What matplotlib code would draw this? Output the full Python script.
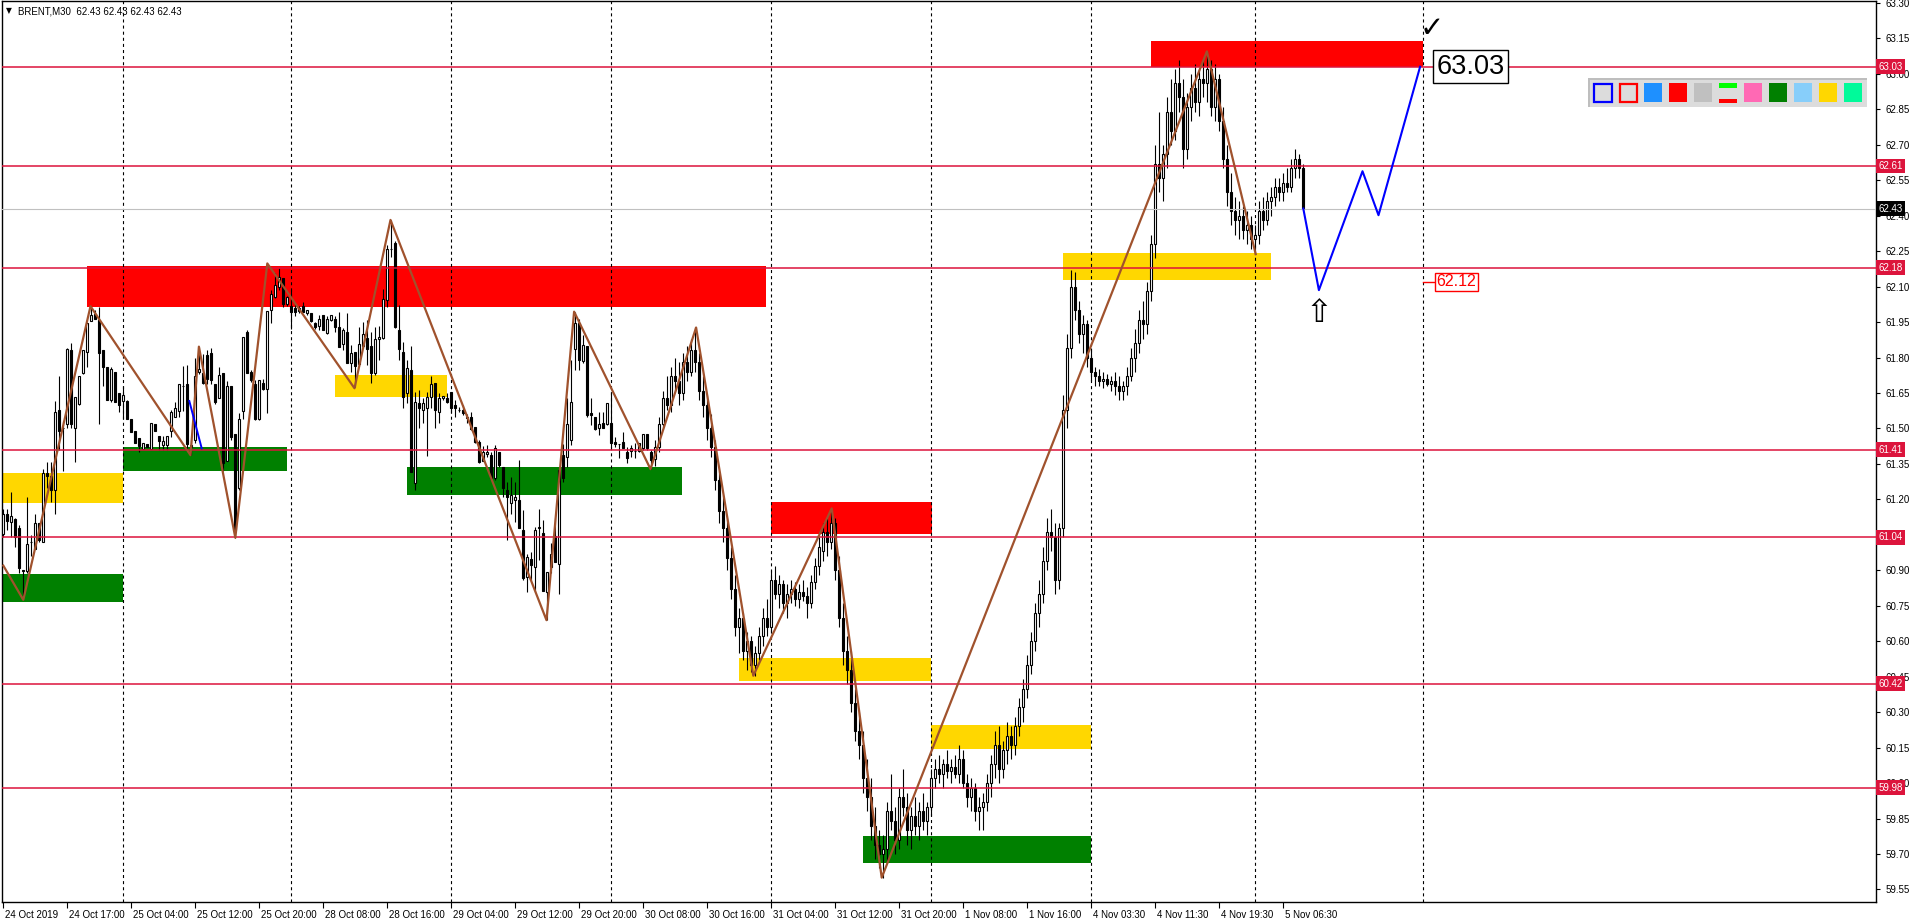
import numpy as np
import matplotlib
matplotlib.use("Agg")
import matplotlib.pyplot as plt
from matplotlib.patches import Rectangle
import matplotlib.transforms as mtransforms

# ---------------- data ----------------
title_text = "BRENT,M30  62.43 62.43 62.43 62.43"

opens = [
61.055,61.14,61.105,61.115,61.08,60.90,60.895,61.02,60.99,61.10,
61.02,61.31,61.30,61.24,61.58,61.50,61.52,61.83,61.50,61.605,
61.735,61.825,61.955,61.985,61.96,61.83,61.76,61.62,61.74,61.65,
61.615,61.615,61.54,61.49,61.46,61.415,61.435,61.415,61.52,61.47,
61.43,61.43,61.49,61.55,61.575,61.68,61.69,61.43,61.45,61.74,
61.735,61.81,61.82,61.69,61.627,61.736,61.364,61.68,61.476,61.25,
61.575,61.906,61.74,61.69,61.54,61.693,61.665,62.00,62.057,62.10,
62.135,62.026,62.018,62.01,61.997,62.018,61.987,61.987,61.944,61.935,
61.98,61.905,61.959,61.965,61.928,61.856,61.906,61.775,61.825,61.773,
61.85,61.884,61.849,61.733,61.877,61.884,62.043,62.258,62.286,61.916,
61.825,61.648,61.747,61.268,61.606,61.578,61.585,61.634,61.694,61.568,
61.627,61.627,61.655,61.599,61.578,61.58,61.55,61.55,61.505,61.444,
61.364,61.39,61.388,61.289,61.40,61.338,61.24,61.186,61.197,61.197,
61.07,60.873,60.946,60.915,61.077,61.056,60.809,60.915,61.045,60.925,
61.387,61.38,61.451,61.834,61.944,61.787,61.848,61.566,61.547,61.504,
61.524,61.518,61.524,61.444,61.434,61.444,61.40,61.406,61.406,61.406,
61.416,61.475,61.402,61.37,61.42,61.52,61.63,61.60,61.72,61.70,
61.65,61.78,61.74,61.83,61.78,61.66,61.60,61.50,61.42,61.28,
61.15,61.08,60.95,60.82,60.66,60.70,60.56,60.60,60.50,60.55,
60.62,60.70,60.66,60.86,60.80,60.84,60.76,60.80,60.82,60.78,
60.81,60.79,60.76,60.85,60.92,60.98,61.06,61.02,61.10,60.90,
60.70,60.56,60.48,60.34,60.22,60.16,60.02,59.94,59.82,59.74,
59.70,59.72,59.88,59.84,59.76,59.94,59.90,59.80,59.86,59.82,
59.88,59.84,59.90,60.02,60.06,60.04,60.08,60.05,60.07,60.04,
60.10,60.00,59.94,59.98,59.88,59.90,59.92,60.00,60.08,60.16,
60.06,60.14,60.20,60.16,60.24,60.32,60.40,60.50,60.60,60.72,
60.80,60.94,61.06,61.04,60.86,61.08,61.58,61.84,62.10,62.00,
61.90,61.94,61.80,61.74,61.72,61.70,61.71,61.69,61.70,61.68,
61.66,61.68,61.72,61.80,61.86,61.96,61.94,62.08,62.28,62.62,
62.56,62.66,62.84,62.76,62.96,62.90,62.68,62.86,62.94,62.88,
62.98,62.96,63.02,62.86,62.98,62.80,62.64,62.50,62.42,62.38,
62.40,62.34,62.36,62.30,62.32,62.42,62.38,62.46,62.48,62.52,
62.50,62.54,62.52,62.60,62.64,62.60]

highs = [
61.16,61.16,61.23,61.12,61.09,60.90,61.21,61.05,61.14,61.10,
61.33,61.36,61.36,61.615,61.72,61.53,61.84,61.86,61.635,61.72,
61.83,61.945,62.02,62.00,62.015,61.83,61.76,61.76,61.74,61.65,
61.68,61.62,61.54,61.49,61.46,61.44,61.435,61.525,61.52,61.47,
61.47,61.47,61.58,61.61,61.69,61.764,61.77,61.45,61.80,61.846,
61.817,61.83,61.84,61.69,61.76,61.736,61.70,61.68,61.476,61.564,
61.888,61.916,61.747,61.707,61.707,61.71,61.997,62.085,62.156,62.177,
62.135,62.06,62.085,62.03,62.02,62.036,62.00,61.99,61.95,61.98,
61.98,61.975,61.98,61.975,61.994,61.924,61.987,61.853,61.825,61.93,
61.952,61.958,61.91,61.93,61.933,62.088,62.276,62.382,62.294,62.022,
61.867,61.79,61.849,61.655,61.662,61.627,61.655,61.72,61.694,61.651,
61.637,61.648,61.655,61.62,61.59,61.599,61.56,61.571,61.505,61.451,
61.427,61.43,61.40,61.43,61.40,61.338,61.275,61.295,61.275,61.366,
61.157,60.971,60.978,61.084,61.16,61.112,60.894,61.014,61.12,61.331,
61.434,61.627,61.79,61.994,61.965,61.895,61.848,61.627,61.547,61.57,
61.57,61.606,61.655,61.462,61.436,61.486,61.423,61.43,61.437,61.437,
61.475,61.475,61.41,61.45,61.55,61.66,61.72,61.76,61.80,61.78,
61.82,61.85,61.88,61.93,61.82,61.72,61.64,61.56,61.45,61.32,
61.22,61.12,61.00,60.88,60.74,60.72,60.64,60.62,60.58,60.66,
60.74,60.78,60.90,60.92,60.88,60.86,60.84,60.86,60.85,60.84,
60.86,60.83,60.88,60.95,61.04,61.10,61.12,61.162,61.12,60.96,
60.76,60.62,60.56,60.40,60.30,60.22,60.10,60.02,59.90,59.80,
59.78,59.92,60.04,59.90,59.98,60.06,59.96,59.90,59.94,59.92,
59.96,59.92,60.06,60.10,60.12,60.10,60.14,60.10,60.12,60.16,
60.14,60.04,60.02,60.00,59.94,59.96,60.04,60.12,60.22,60.24,
60.18,60.26,60.24,60.28,60.36,60.44,60.54,60.64,60.76,60.86,
61.00,61.12,61.16,61.10,61.10,61.64,61.90,62.17,62.16,62.04,
61.98,61.96,61.84,61.76,61.75,61.74,61.73,61.72,61.74,61.72,
61.70,61.76,61.84,61.92,62.00,62.04,62.12,62.32,62.70,62.84,
62.70,62.90,62.98,63.02,63.06,62.98,62.92,63.00,63.04,63.02,
63.06,63.095,63.06,63.04,63.00,62.86,62.70,62.58,62.48,62.46,
62.44,62.42,62.40,62.36,62.46,62.48,62.50,62.52,62.56,62.56,
62.58,62.60,62.64,62.68,62.66,62.62]

lows = [
61.04,61.07,61.04,61.00,60.89,60.775,60.89,60.96,60.99,61.02,
61.02,61.25,61.19,61.14,61.41,61.32,61.50,61.50,61.36,61.60,
61.73,61.76,61.955,61.965,61.52,61.68,61.62,61.61,61.61,61.57,
61.54,61.54,61.485,61.44,61.40,61.415,61.42,61.415,61.49,61.41,
61.41,61.41,61.465,61.55,61.55,61.575,61.406,61.387,61.44,61.73,
61.69,61.69,61.69,61.603,61.627,61.32,61.364,61.45,61.038,61.24,
61.54,61.733,61.698,61.536,61.536,61.662,61.564,61.944,62.05,62.085,
62.015,62.02,61.92,61.975,61.99,61.994,61.98,61.95,61.92,61.917,
61.917,61.90,61.955,61.91,61.846,61.83,61.775,61.74,61.677,61.764,
61.84,61.768,61.694,61.726,61.79,61.877,62.015,62.227,61.924,61.79,
61.585,61.606,61.317,61.24,61.50,61.522,61.383,61.585,61.50,61.524,
61.62,61.606,61.564,61.55,61.57,61.557,61.522,61.494,61.437,61.353,
61.364,61.38,61.28,61.28,61.338,61.21,61.03,61.14,61.105,61.077,
60.86,60.81,60.86,60.81,60.943,60.814,60.689,60.887,60.936,60.80,
61.275,61.338,61.43,61.747,61.747,61.775,61.55,61.514,61.493,61.472,
61.50,61.514,61.416,61.423,61.377,61.416,61.355,61.38,61.377,61.40,
61.41,61.41,61.328,61.34,61.40,61.50,61.58,61.57,61.66,61.60,
61.62,61.70,61.72,61.74,61.62,61.55,61.45,61.38,61.24,61.10,
61.02,60.90,60.78,60.62,60.55,60.52,60.48,60.47,60.454,60.52,
60.58,60.62,60.64,60.78,60.74,60.72,60.70,60.76,60.75,60.74,
60.77,60.70,60.74,60.82,60.88,60.94,60.96,60.99,60.86,60.66,
60.50,60.42,60.30,60.18,60.10,59.96,59.88,59.76,59.68,59.64,
59.60,59.66,59.80,59.70,59.72,59.86,59.74,59.72,59.78,59.76,
59.80,59.78,59.86,59.98,60.00,59.98,60.02,60.00,60.02,60.00,
59.98,59.90,59.88,59.84,59.80,59.80,59.88,59.94,60.02,60.00,
60.02,60.08,60.10,60.12,60.20,60.26,60.36,60.46,60.56,60.66,
60.76,60.90,60.98,60.80,60.82,61.04,61.50,61.80,61.96,61.86,
61.82,61.76,61.70,61.68,61.68,61.67,61.68,61.66,61.64,61.62,
61.62,61.64,61.70,61.74,61.82,61.88,61.90,62.04,62.22,62.50,
62.46,62.60,62.70,62.72,62.84,62.60,62.64,62.80,62.84,62.82,
62.90,62.88,62.82,62.80,62.76,62.60,62.44,62.36,62.32,62.30,
62.30,62.28,62.26,62.237,62.28,62.34,62.36,62.40,62.44,62.46,
62.46,62.50,62.50,62.56,62.56,62.43]

closes = [
61.14,61.11,61.13,61.04,60.91,60.895,61.01,61.02,61.10,61.03,
61.31,61.30,61.24,61.57,61.49,61.50,61.835,61.52,61.635,61.72,
61.83,61.945,61.98,61.965,61.82,61.76,61.62,61.75,61.61,61.60,
61.64,61.54,61.485,61.44,61.425,61.44,61.42,61.525,61.49,61.445,
61.445,61.47,61.57,61.585,61.69,61.68,61.434,61.42,61.72,61.75,
61.693,61.71,61.705,61.61,61.726,61.355,61.68,61.465,61.07,61.538,
61.885,61.736,61.707,61.54,61.707,61.665,61.997,62.067,62.107,62.14,
62.026,62.054,61.994,61.994,62.01,61.994,62.00,61.954,61.927,61.964,
61.917,61.965,61.978,61.928,61.846,61.916,61.775,61.818,61.766,61.856,
61.898,61.835,61.736,61.877,61.885,62.046,62.258,62.258,61.928,61.835,
61.634,61.757,61.317,61.613,61.585,61.606,61.634,61.687,61.578,61.628,
61.637,61.613,61.585,61.585,61.578,61.567,61.543,61.496,61.444,61.357,
61.40,61.40,61.289,61.416,61.345,61.246,61.21,61.218,61.211,61.077,
60.866,60.957,60.922,61.07,61.085,60.814,60.894,60.967,60.936,61.324,
61.289,61.52,61.613,61.947,61.79,61.855,61.557,61.557,61.496,61.518,
61.504,61.606,61.437,61.434,61.434,61.416,61.377,61.416,61.406,61.437,
61.475,61.416,61.366,61.42,61.52,61.63,61.60,61.72,61.70,61.65,
61.78,61.74,61.83,61.78,61.66,61.60,61.50,61.42,61.28,61.15,
61.08,60.95,60.82,60.66,60.70,60.56,60.60,60.50,60.55,60.62,
60.70,60.66,60.86,60.80,60.84,60.76,60.80,60.82,60.78,60.81,
60.79,60.76,60.85,60.92,61.00,61.06,61.02,61.10,60.90,60.70,
60.56,60.48,60.34,60.22,60.16,60.02,59.94,59.82,59.74,59.70,
59.72,59.88,59.84,59.76,59.94,59.90,59.80,59.86,59.82,59.88,
59.84,59.90,60.02,60.06,60.04,60.08,60.05,60.07,60.04,60.10,
60.00,59.94,59.98,59.88,59.90,59.92,60.00,60.08,60.16,60.06,
60.14,60.20,60.16,60.24,60.32,60.40,60.50,60.60,60.72,60.80,
60.94,61.06,61.04,60.86,61.08,61.58,61.84,62.10,62.00,61.90,
61.94,61.80,61.74,61.72,61.70,61.71,61.69,61.70,61.68,61.66,
61.68,61.72,61.80,61.86,61.96,61.94,62.08,62.28,62.62,62.56,
62.66,62.84,62.76,62.96,62.90,62.68,62.86,62.94,62.88,62.98,
62.96,63.02,62.86,62.98,62.80,62.64,62.50,62.42,62.38,62.40,
62.34,62.36,62.30,62.32,62.42,62.38,62.46,62.48,62.52,62.50,
62.54,62.52,62.60,62.64,62.60,62.43]

# zigzag indicator vertices (bar index, price)
zigzag_bars   = [0, 5, 21.8, 46.8, 48.9, 58, 66, 87.8, 96.8, 135.8, 142.7, 161.8, 173.2, 187.5, 207.1, 219.6, 300.9, 313.1]
zigzag_prices = [60.92, 60.775, 62.017, 61.387, 61.846, 61.038, 62.198, 61.67, 62.382, 60.689, 61.994, 61.328, 61.927, 60.454, 61.162, 59.60, 63.095, 62.237]

# small blue indicator segment
blue_seg_bars = [46.5, 49.6]
blue_seg_prices = [61.616, 61.416]

# blue forecast path
forecast_bars = [325, 328.9, 339.8, 343.8, 354.2]
forecast_prices = [62.43, 62.085, 62.588, 62.402, 63.03]

# horizontal levels
level_prices = [63.03, 62.61, 62.18, 61.41, 61.04, 60.42, 59.98]
current_price = 62.43

# zones: (start bar, end bar, low price, high price)
red_zones = [(21, 190.7, 62.015, 62.186), (191.9, 232.2, 61.053, 61.188), (287, 354.85, 63.03, 63.14)]
yellow_zones = [(-0.5, 30, 61.185, 61.311), (82.9, 110.9, 61.634, 61.726), (184, 231.9, 60.433, 60.531),
                (232, 271.9, 60.144, 60.247), (264.9, 316.9, 62.128, 62.242)]
green_zones = [(-0.5, 30, 60.767, 60.884), (30, 70.8, 61.319, 61.422), (100.9, 169.6, 61.218, 61.338),
               (214.8, 271.9, 59.663, 59.777)]

# day separators (bar index)
separator_bars = [30, 72, 112, 152, 192, 232, 272, 313, 355]

# time axis labels, one every 16 bars
time_labels = ["24 Oct 2019", "24 Oct 17:00", "25 Oct 04:00", "25 Oct 12:00", "25 Oct 20:00",
               "28 Oct 08:00", "28 Oct 16:00", "29 Oct 04:00", "29 Oct 12:00", "29 Oct 20:00",
               "30 Oct 08:00", "30 Oct 16:00", "31 Oct 04:00", "31 Oct 12:00", "31 Oct 20:00",
               "1 Nov 08:00", "1 Nov 16:00", "4 Nov 03:30", "4 Nov 11:30", "4 Nov 19:30", "5 Nov 06:30"]
time_label_bars = [16 * k for k in range(len(time_labels))]

# right-axis price scale (61.05 is hidden under the 61.04 tag in the reference)
price_ticks = [63.30, 63.15, 63.00, 62.85, 62.70, 62.55, 62.40, 62.25, 62.10, 61.95, 61.80, 61.65,
               61.50, 61.35, 61.20, 60.90, 60.75, 60.60, 60.45, 60.30, 60.15, 60.00, 59.85, 59.70, 59.55]

target_price = 63.03
target_label = "63.03"
support_price = 62.12
support_label = "62.12"

legend_colors = ["#1E90FF", "#FF0000", "#C0C0C0", None, "#FF69B4", "#008000", "#87CEFA", "#FFD700", "#00FA9A"]

# ---------------- figure ----------------
W, H = 1916, 923
plt.rcParams['font.family'] = ['Liberation Sans', 'DejaVu Sans']
plt.rcParams['lines.scale_dashes'] = False
fig = plt.figure(figsize=(W / 100, H / 100), dpi=100)
fig.patch.set_facecolor('white')

def fx(px):
    return px / W

def fy(py):
    return 1 - py / H

ax = fig.add_axes([fx(2), fy(902), fx(1876) - fx(2), fy(1) - fy(902)])
ax.set_xlim(-0.325, 468.175)
ax.set_ylim(59.497, 63.308)
ax.set_facecolor('white')

# zones
for zones, col in ((red_zones, '#FF0000'), (yellow_zones, '#FFD700'), (green_zones, '#008000')):
    for x0, x1, p0, p1 in zones:
        ax.add_patch(Rectangle((x0, p0), x1 - x0, p1 - p0, facecolor=col, edgecolor='none', zorder=1))

# separators
for b in separator_bars:
    ax.axvline(b, color='black', lw=0.8, ls=(0, (2.2, 2.2)), zorder=2)

# candles
o = np.array(opens); h = np.array(highs); l = np.array(lows); c = np.array(closes)
x = np.arange(len(c))
ax.vlines(x, l, h, color='black', lw=0.8, zorder=3)
bottoms = np.minimum(o, c)
heights = np.abs(c - o)
face = ['white' if cc >= oo else 'black' for oo, cc in zip(o, c)]
ax.bar(x, heights, bottom=bottoms, width=0.55, color=face, edgecolor='black', lw=0.8, zorder=3.2)

# current price line
ax.axhline(current_price, color='#C0C0C0', lw=0.8, zorder=3.5)

# levels
for p in level_prices:
    ax.axhline(p, color='#DC143C', lw=1.1, zorder=4)

# zigzag
ax.plot(zigzag_bars, zigzag_prices, color='#A0522D', lw=1.6, zorder=5)
ax.plot(blue_seg_bars, blue_seg_prices, color='#0000FF', lw=1.4, zorder=5)

# forecast
ax.plot(forecast_bars, forecast_prices, color='#0000FF', lw=1.5, zorder=5)

# target label
ax.text(358.3, target_price, target_label, fontsize=19.5, color='black', ha='left', va='center',
        family='Liberation Sans', zorder=6,
        bbox=dict(boxstyle='square,pad=0.12', fc='white', ec='black', lw=1.0))
ax.text(357.2, 63.19, "✓", fontsize=21, color='black', ha='center', va='center',
        family='DejaVu Sans', zorder=6)

# support label
ax.plot([355, 357.6], [support_price, support_price], color='#FF0000', lw=1.0, zorder=6)
ax.text(358.3, support_price, support_label, fontsize=11.5, color='#FF0000', ha='left', va='center',
        zorder=6, bbox=dict(boxstyle='square,pad=0.1', fc='white', ec='#FF0000', lw=1.0))
ax.text(328.9, 61.985, "⇧", fontsize=23, color='black', ha='center', va='center',
        family='DejaVu Sans', zorder=6)

# axes styling
for s in ax.spines.values():
    s.set_color('black')
    s.set_linewidth(1.0)
ax.yaxis.tick_right()
ax.set_yticks(price_ticks)
ax.set_yticklabels([f"{p:.2f}" for p in price_ticks])
ax.tick_params(axis='y', direction='out', length=3, pad=4, labelsize=7, colors='black')
ax.set_xticks(time_label_bars)
ax.set_xticklabels(time_labels)
ax.tick_params(axis='x', direction='out', length=4, pad=2, labelsize=7, colors='black')
offset = mtransforms.ScaledTranslation(2 / 100, 0, fig.dpi_scale_trans)
for lab in ax.get_xticklabels():
    lab.set_horizontalalignment('left')
    lab.set_transform(lab.get_transform() + offset)

# price tags on the right axis
tag_tr = mtransforms.blended_transform_factory(ax.transAxes, ax.transData)
for p in level_prices:
    ax.text(1.0013, p, f"{p:.2f}", transform=tag_tr, fontsize=7, color='white', ha='left', va='center',
            clip_on=False, zorder=10,
            bbox=dict(boxstyle='square,pad=0.25', fc='#DC143C', ec='none'))
ax.text(1.0013, current_price, f"{current_price:.2f}", transform=tag_tr, fontsize=7, color='white',
        ha='left', va='center', clip_on=False, zorder=10,
        bbox=dict(boxstyle='square,pad=0.25', fc='black', ec='none'))

# title
fig.text(fx(6), fy(11), "▼", fontsize=5.5, color='black', ha='left', va='center', family='DejaVu Sans')
fig.text(fx(18), fy(11), title_text, fontsize=7, color='black', ha='left', va='center')

# colour-picker panel (top right)
def frect(x0, y0, x1, y1, **kw):
    fig.add_artist(Rectangle((fx(x0), fy(y1)), (x1 - x0) / W, (y1 - y0) / H,
                             transform=fig.transFigure, **kw))

frect(1588, 78, 1867, 107, facecolor='#DCDCDC', edgecolor='none')
frect(1588, 78, 1867, 80, facecolor='#BEBEBE', edgecolor='none')
frect(1588, 78, 1590, 107, facecolor='#BEBEBE', edgecolor='none')
frect(1594, 84, 1611.5, 101.5, facecolor='#DCDCDC', edgecolor='#0000FF', lw=1.6)
frect(1619.5, 84, 1637, 101.5, facecolor='#DCDCDC', edgecolor='#FF0000', lw=1.6)
for k, col in enumerate(legend_colors):
    xa = 1644 + 25 * k
    if col is None:
        frect(xa, 83.3, xa + 18, 87.5, facecolor='#00FF00', edgecolor='none')
        frect(xa, 99, xa + 18, 103, facecolor='#FF0000', edgecolor='none')
    else:
        frect(xa, 83.3, xa + 18, 102.3, facecolor=col, edgecolor='none')

fig.savefig("out.png", dpi=100, facecolor='white')
